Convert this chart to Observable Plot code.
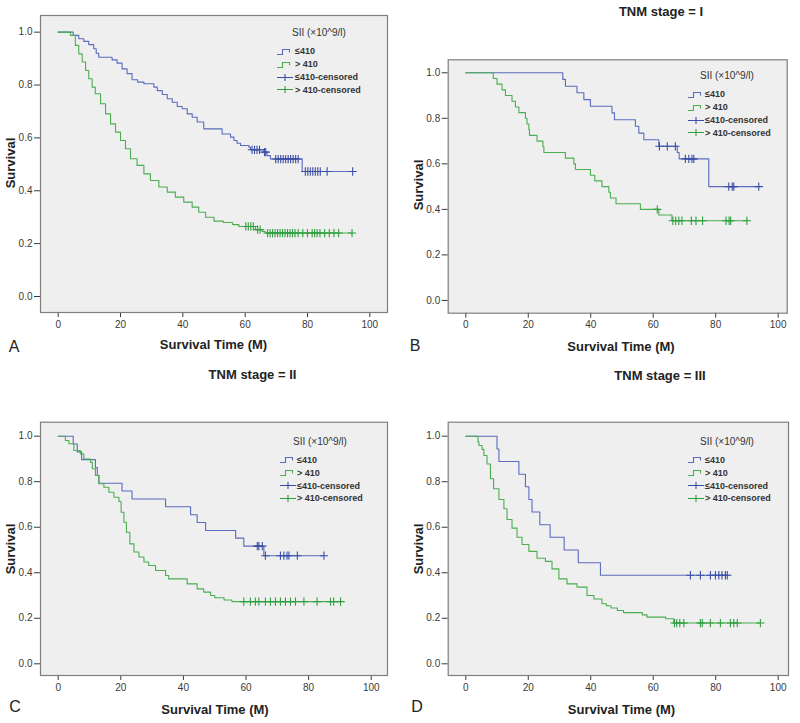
<!DOCTYPE html>
<html><head><meta charset="utf-8">
<script src="https://cdn.jsdelivr.net/npm/d3@7"></script>
<script src="https://cdn.jsdelivr.net/npm/@observablehq/plot@0.6"></script>
<style>
body{margin:0;background:#fff;}
#chart{position:relative;width:800px;height:723px;overflow:hidden;font-family:"Liberation Sans",Arial,sans-serif;color:#222;}
.abs{position:absolute;white-space:nowrap;line-height:1;}
.ctr{transform:translate(-50%,-50%);}
.vctr{transform:translateY(-50%);}
.title{font-weight:bold;font-size:13px;color:#222;}
.ylab{font-weight:bold;font-size:13px;transform:translate(-50%,-50%) rotate(-90deg);}
.letter{font-size:16px;color:#222;}
.legt{font-size:10px;color:#333;}
.legi{font-size:9px;font-weight:bold;color:#333;}
.plotbox{position:absolute;}
</style></head><body><div id="chart"></div>
<script>
// ---- shared labels ----
const xTicks = [0, 20, 40, 60, 80, 100];
const yTicks = [0, 0.2, 0.4, 0.6, 0.8, 1.0];
const legendTitle = "SII (×10^9/l)";
const seriesLabels = ["≤410", "> 410", "≤410-censored", "> 410-censored"];
const panelLetters = ["A", "B", "C", "D"];
const panelTitles = [null, "TNM stage = I", "TNM stage = II", "TNM stage = III"];
const xLabel = "Survival Time (M)";
const yLabel = "Survival";

// ---- Panel A (all patients) ----
const timeA_low = [0,4.8,6.6,8.2,9.8,11.4,12.2,13,17.3,18.9,20.5,22.1,23.7,25.5,27.5,30.7,31.8,33.4,35,36.6,38.2,39.8,41.4,43,44.6,46.7,52.6,55.3,56.4,57.4,58.5,61.2,61.7,66,67,68.1,78.3,94.5];
const survA_low = [1,0.988,0.975,0.965,0.953,0.937,0.92,0.905,0.895,0.883,0.861,0.843,0.82,0.811,0.805,0.792,0.779,0.764,0.748,0.735,0.719,0.71,0.691,0.678,0.66,0.634,0.615,0.603,0.59,0.58,0.571,0.565,0.555,0.546,0.533,0.52,0.473,0.473];
const censA_low = [62.2,63,63.8,64.6,66.2,66.6,69.8,70.6,71.4,72.2,73,73.8,74.6,75.4,76.2,77,79.3,80.1,80.9,81.7,82.5,83.3,84.1,86.3,94.5];
const timeA_high = [0,3.9,5.5,6.6,7.7,8.8,9.8,10.9,11.9,13.6,15.2,16.8,18.4,20,21.6,23.2,25.3,27.5,29.6,32.3,35,37.6,40.3,43,45.1,47.3,50,53,56,58,63.3,65.4,66.5,94.3];
const survA_high = [1,0.988,0.95,0.918,0.887,0.855,0.824,0.792,0.767,0.729,0.691,0.653,0.622,0.59,0.559,0.521,0.496,0.464,0.439,0.414,0.395,0.376,0.357,0.338,0.319,0.3,0.285,0.28,0.272,0.265,0.253,0.246,0.24,0.24];
const censA_high = [60.2,61,61.8,62.6,64,64.8,67.2,68,68.8,69.6,70.4,71.2,72,72.8,73.6,74.4,75.2,76,77,78.5,80,81.5,82.3,83.1,84,85.5,87,88.5,90,94.3];

// ---- Panel B (TNM stage I) ----
const timeB_low = [0,31.05,31.9,35.6,37.8,39.9,46.8,47.6,54.3,55.4,57,61.8,67.7,68.3,77.8,93.8];
const survB_low = [1,0.971,0.941,0.912,0.882,0.853,0.824,0.794,0.765,0.735,0.706,0.677,0.65,0.622,0.5,0.5];
const censB_low = [62,64.5,67.1,70.3,71.4,72.4,73,84.2,85.3,85.8,93.8];
const timeB_high = [0,8.8,10,11.6,12.7,14.8,15.9,17,19.1,19.6,20.2,20.4,22.8,24.7,25,31.9,34.6,35.1,39.9,41.3,43.6,45.8,46.3,48.1,55.9,61.8,66,90];
const survB_high = [1,0.975,0.95,0.925,0.9,0.875,0.85,0.825,0.8,0.775,0.75,0.725,0.7,0.675,0.65,0.625,0.6,0.575,0.55,0.525,0.5,0.475,0.45,0.425,0.4,0.375,0.35,0.35];
const censB_high = [61.3,66.3,67.2,68.2,69.2,72.2,73.7,75.8,83.3,84.3,84.8,90];

// ---- Panel C (TNM stage II) ----
const timeC_low = [0,4.8,6.1,7.5,11.9,12.5,13,20.4,23.6,34.3,42.3,44.4,47.1,56.7,59.3,65.7,84.9];
const survC_low = [1,0.966,0.931,0.897,0.862,0.828,0.793,0.759,0.724,0.69,0.655,0.621,0.586,0.552,0.517,0.475,0.475];
const censC_low = [63.6,64.1,65.2,66.2,71,72.1,73.1,73.7,76.4,84.9];
const timeC_high = [0,2.3,3.4,5,7.1,8.2,10.3,10.9,11.9,13,14.6,16.2,17.8,19.4,20.1,21,21.8,22.9,24.2,25.8,27.4,28.9,31.1,34.3,35.3,41.2,44.4,46.5,48.7,50,53,55.5,90.2];
const survC_high = [1,0.981,0.967,0.937,0.922,0.9,0.886,0.857,0.827,0.791,0.776,0.754,0.732,0.713,0.666,0.622,0.578,0.527,0.491,0.469,0.447,0.432,0.41,0.388,0.373,0.351,0.329,0.315,0.3,0.29,0.28,0.273,0.273];
const censC_high = [59.3,61.4,63,64.1,66.2,67.8,69.4,71,72.6,74.2,75.8,78.5,82.7,87,88,90.2];

// ---- Panel D (TNM stage III) ----
const timeD_low = [0,10,10.6,17,19.1,20.2,21.2,23.7,27,31.5,36,43.1,83.7];
const survD_low = [1,0.944,0.889,0.833,0.778,0.722,0.667,0.611,0.556,0.5,0.444,0.389,0.389];
const censD_low = [71.9,75.1,78.3,79.9,81,82,83.1,83.7];
const timeD_high = [0,3.9,4.2,5.2,5.8,6.8,7.9,8.9,10.6,12.2,13.2,14.8,16.4,18,20.2,22.8,25.5,27.6,29.8,32.4,35.6,38.8,41,43.6,45,46.5,48.5,50.5,56.5,58,64,66.6,94.3];
const survD_high = [1,0.975,0.959,0.942,0.915,0.878,0.813,0.769,0.722,0.681,0.634,0.596,0.556,0.524,0.494,0.464,0.45,0.417,0.373,0.351,0.337,0.3,0.285,0.264,0.255,0.245,0.234,0.225,0.215,0.205,0.198,0.179,0.179];
const censD_high = [66.8,67.5,68.5,69.8,75.1,75.7,78.3,81.5,84.7,85.8,86.9,94.3];

// ---- styling ----
const BLUE = "#5a6cbf", BLUE_C = "#3a4ea6", GREEN = "#4bae50", GREEN_C = "#2f9f40";
const PLOT_BG = "#efefef", FRAME = "#7f7f7f";

function rows(t, s) { return t.map((d, i) => ({t: d, s: s[i]})); }
function stepAt(t, s, x) { let v = s[0]; for (let i = 0; i < t.length; i++) if (t[i] <= x) v = s[i]; return v; }
function cens(t, s, c) { return c.map(x => ({t: x, s: stepAt(t, s, x)})); }

const panels = [
  {left: 0, top: 0, w: 400, h: 360, m: [15, 13, 48, 40], xd: [-5.68, 105.68], yd: [-0.0605, 1.063],
   low: [timeA_low, survA_low, censA_low], high: [timeA_high, survA_high, censA_high],
   ylab: [10, 163], xlab: [213.5, 343.5], letter: [14, 347], title: null,
   leg: {tx: 292, ty: 33.3, ix: 277, lx: 295}},
  {left: 400, top: 0, w: 400, h: 360, m: [59.3, 13.3, 47.3, 47.7], xd: [-5.63, 102.9], yd: [-0.056, 1.057],
   low: [timeB_low, survB_low, censB_low], high: [timeB_high, survB_high, censB_high],
   ylab: [418, 185], xlab: [621, 346], letter: [415, 346], title: [661, 10.5],
   leg: {tx: 700, ty: 76, ix: 688, lx: 705}},
  {left: 0, top: 360, w: 400, h: 363, m: [61.7, 13, 48, 40], xd: [-5.65, 105.2], yd: [-0.0514, 1.0615],
   low: [timeC_low, survC_low, censC_low], high: [timeC_high, survC_high, censC_high],
   ylab: [10, 549], xlab: [215, 709], letter: [15, 707], title: [252.5, 374],
   leg: {tx: 293, ty: 441.7, ix: 280, lx: 297}},
  {left: 400, top: 360, w: 400, h: 363, m: [61.7, 12, 48, 47.7], xd: [-5.63, 103.3], yd: [-0.0514, 1.0615],
   low: [timeD_low, survD_low, censD_low], high: [timeD_high, survD_high, censD_high],
   ylab: [418, 549], xlab: [621.5, 709], letter: [417, 707], title: [660, 375],
   leg: {tx: 700, ty: 441.7, ix: 688, lx: 705}}
];

const chart = document.getElementById("chart");
function addText(cls, text, x, y) {
  const d = document.createElement("div");
  d.className = "abs " + cls;
  d.textContent = text;
  d.style.left = x + "px"; d.style.top = y + "px";
  chart.appendChild(d);
  return d;
}

panels.forEach((p, k) => {
  const plot = Plot.plot({
    width: p.w, height: p.h,
    marginTop: p.m[0], marginRight: p.m[1], marginBottom: p.m[2], marginLeft: p.m[3],
    x: {domain: p.xd},
    y: {domain: p.yd},
    style: {background: "transparent", fontFamily: "'Liberation Sans', Arial, sans-serif", fontSize: "10px", color: "#3a3a3a", overflow: "visible"},
    marks: [
      Plot.frame({fill: PLOT_BG, stroke: "none"}),
      Plot.axisX(xTicks, {tickSize: 5, tickPadding: 3, tickFormat: d => String(d), label: null}),
      Plot.axisY(yTicks, {tickSize: 6, tickPadding: 2, tickFormat: d => d.toFixed(1), label: null}),
      Plot.line(rows(p.low[0], p.low[1]), {x: "t", y: "s", curve: "step-after", stroke: BLUE, strokeWidth: 1.1}),
      Plot.line(rows(p.high[0], p.high[1]), {x: "t", y: "s", curve: "step-after", stroke: GREEN, strokeWidth: 1.1}),
      Plot.dot(cens(p.low[0], p.low[1], p.low[2]), {x: "t", y: "s", symbol: "plus", r: 2.8, stroke: BLUE_C, strokeWidth: 1.1}),
      Plot.dot(cens(p.high[0], p.high[1], p.high[2]), {x: "t", y: "s", symbol: "plus", r: 2.8, stroke: GREEN_C, strokeWidth: 1.1}),
      Plot.frame({stroke: FRAME, strokeWidth: 1.2})
    ]
  });
  const box = document.createElement("div");
  box.className = "plotbox";
  box.style.left = p.left + "px"; box.style.top = p.top + "px";
  box.appendChild(plot);
  chart.appendChild(box);

  addText("ylab", yLabel, p.ylab[0], p.ylab[1]);
  addText("title ctr", xLabel, p.xlab[0], p.xlab[1]);
  addText("letter ctr", panelLetters[k], p.letter[0], p.letter[1]);
  if (p.title) addText("title ctr", panelTitles[k], p.title[0], p.title[1]);

  // legend
  addText("legt vctr", legendTitle, p.leg.tx, p.leg.ty);
  const offs = [18, 31, 44, 56.5];
  const cols = [BLUE, GREEN, BLUE_C, GREEN_C];
  seriesLabels.forEach((lab, i) => {
    const y = p.leg.ty + offs[i];
    const icon = document.createElementNS("http://www.w3.org/2000/svg", "svg");
    icon.setAttribute("width", "16"); icon.setAttribute("height", "9");
    icon.style.position = "absolute";
    icon.style.left = p.leg.ix + "px"; icon.style.top = (y - 4.5) + "px";
    const path = document.createElementNS("http://www.w3.org/2000/svg", "path");
    path.setAttribute("d", i < 2 ? "M0,7.5H5.5V2.5H12.5V5.5" : "M0,4.5H16M8,1V8");
    path.setAttribute("fill", "none");
    path.setAttribute("stroke", cols[i]);
    path.setAttribute("stroke-width", "1.1");
    icon.appendChild(path);
    chart.appendChild(icon);
    addText("legi vctr", lab, p.leg.lx, y);
  });
});
</script>
</body></html>
